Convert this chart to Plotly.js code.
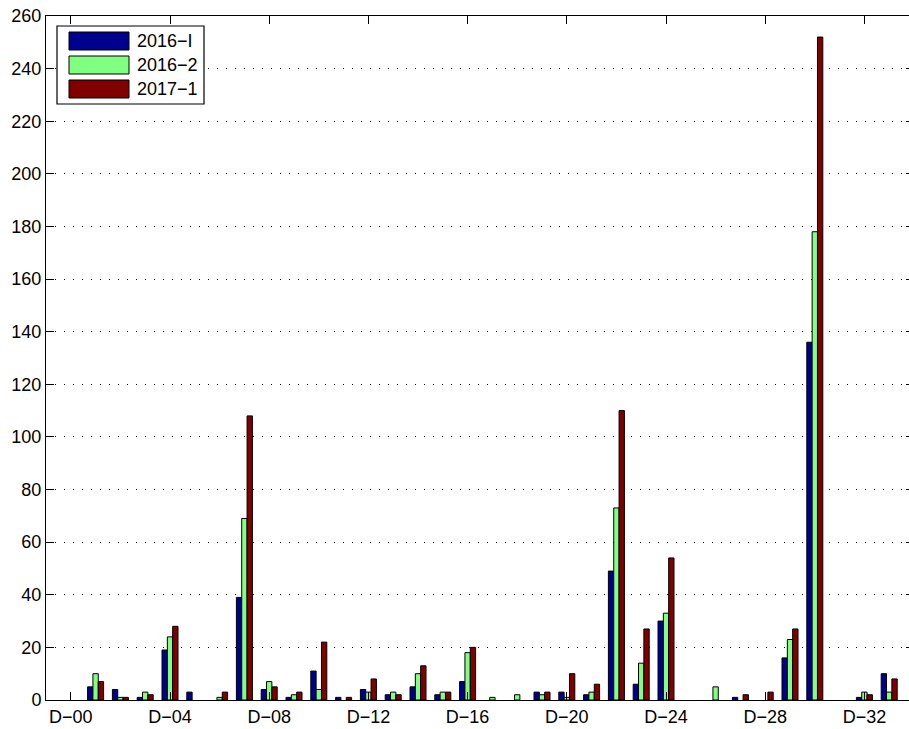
<!DOCTYPE html>
<html>
<head>
<meta charset="utf-8">
<script src="https://cdn.plot.ly/plotly-3.0.1.min.js"></script>
<style>
html, body { margin: 0; padding: 0; overflow: hidden; background: #fff; }
#chart { width: 916px; height: 729px; }
</style>
</head>
<body>
<div id="chart"></div>
<script>
// ---- data ----
var categories = ["D−00","D−01","D−02","D−03","D−04","D−05","D−06","D−07","D−08","D−09",
                  "D−10","D−11","D−12","D−13","D−14","D−15","D−16","D−17","D−18","D−19",
                  "D−20","D−21","D−22","D−23","D−24","D−25","D−26","D−27","D−28","D−29",
                  "D−30","D−31","D−32","D−33"];
var tickLabels = ["D−00","D−04","D−08","D−12","D−16","D−20","D−24","D−28","D−32"];
var seriesNames = ["2016−I", "2016−2", "2017−1"];
var s2016_1 = [0,5,4,1,19,3,0,39,4,1,11,1,4,2,5,2,7,0,0,3,3,2,49,6,30,0,0,1,0,16,136,0,1,10];
var s2016_2 = [0,10,1,3,24,0,1,69,7,2,4,0,3,3,10,3,18,1,2,2,1,3,73,14,33,0,5,0,0,23,178,0,3,3];
var s2017_1 = [0,7,1,2,28,0,3,108,5,3,22,1,8,2,13,3,20,0,0,3,10,6,110,27,54,0,0,2,3,27,252,0,2,8];
var colors = ["#00008F", "#80FF80", "#800000"];

var W = 916, H = 729;
var M = {l: 46, r: 2, t: 16, b: 29};
var FONT = "Liberation Sans, Arial, Helvetica, sans-serif";

var seriesValues = [s2016_1, s2016_2, s2017_1];
var traces = seriesValues.map(function (vals, i) {
  return {
    type: "bar",
    x: categories,
    y: vals,
    name: seriesNames[i],
    marker: {
      color: colors[i],
      line: {color: "#000", width: vals.map(function (v) { return v > 0 ? 1 : 0; })}
    },
    showlegend: false,
    hoverinfo: "x+y+name"
  };
});

// custom MATLAB-like legend (pixel -> paper helpers)
var pw = W - M.l - M.r, ph = H - M.t - M.b;
function px(x) { return (x - M.l) / pw; }
function py(y) { return 1 - (y - M.t) / ph; }

var shapes = [{
  type: "rect", xref: "paper", yref: "paper",
  x0: px(57), x1: px(204), y0: py(104), y1: py(26),
  fillcolor: "#fff", line: {color: "#000", width: 1.2}, layer: "above"
}];
var annotations = [];
var rowY = [41, 65, 89];
seriesNames.forEach(function (n, i) {
  shapes.push({
    type: "rect", xref: "paper", yref: "paper",
    x0: px(69), x1: px(129), y0: py(rowY[i] + 9), y1: py(rowY[i] - 9),
    fillcolor: colors[i], line: {color: "#000", width: 1}, layer: "above"
  });
  annotations.push({
    xref: "paper", yref: "paper", x: px(135), y: py(rowY[i]),
    xanchor: "left", yanchor: "middle", showarrow: false,
    text: n, font: {family: FONT, size: 18, color: "#000"}
  });
});

var layout = {
  width: W, height: H,
  margin: M,
  paper_bgcolor: "#fff", plot_bgcolor: "#fff",
  font: {family: FONT, size: 18, color: "#000"},
  barmode: "group",
  bargap: 0.355,
  bargroupgap: 0,
  showlegend: false,
  xaxis: {
    type: "category",
    range: [-1, 34],
    tickmode: "array",
    tickvals: tickLabels,
    ticktext: tickLabels,
    ticks: "inside", ticklen: 8, tickwidth: 1, tickcolor: "#000",
    showline: true, linecolor: "#000", linewidth: 1, mirror: "ticks",
    showgrid: false, zeroline: false,
    tickfont: {family: FONT, size: 18, color: "#000"},
    fixedrange: true
  },
  yaxis: {
    range: [0, 260],
    tickmode: "linear", tick0: 0, dtick: 20,
    ticks: "inside", ticklen: 8, tickwidth: 1, tickcolor: "#000",
    showline: true, linecolor: "#000", linewidth: 1, mirror: "ticks",
    showgrid: true, gridcolor: "#000", gridwidth: 1, griddash: "1px,8px",
    zeroline: false,
    tickfont: {family: FONT, size: 18, color: "#000"},
    fixedrange: true
  },
  shapes: shapes,
  annotations: annotations
};

Plotly.newPlot("chart", traces, layout, {displayModeBar: false, staticPlot: true});
</script>
</body>
</html>
